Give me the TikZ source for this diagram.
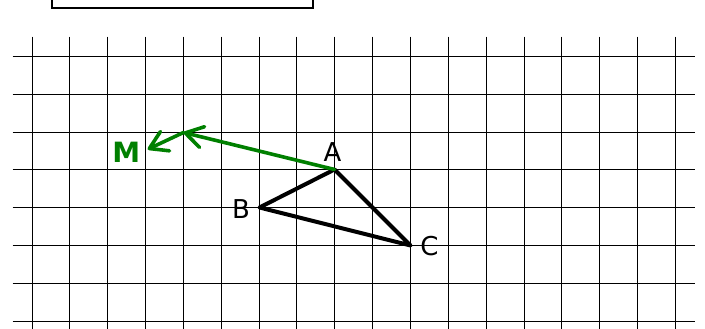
\documentclass[tikz,border=0pt]{standalone}
\usepackage{fontspec}
\setmainfont{DejaVu Sans}
\usetikzlibrary{arrows.meta,calc}
\definecolor{mgreen}{RGB}{0,128,0}
\tikzset{
  gridline/.style={line width=1pt, draw=black},
  tri/.style={line width=3pt, line join=round, line cap=round},
  vec/.style={line width=2.7pt, draw=mgreen, line cap=round,
    -{Straight Barb[length=13pt,width=16pt,line cap=round,line join=round]}},
  ptlabel/.style={anchor=base, inner sep=0pt, font=\fontsize{19.5}{22}\selectfont},
  mlabel/.style={anchor=base, inner sep=0pt, text=mgreen, font=\fontsize{21}{24}\selectfont\bfseries},
}
\begin{document}
\begin{tikzpicture}[x=0.026420cm, y=-0.026420cm]
\clip (0,0) rectangle (705,329);
\fill[white] (0,0) rectangle (705,329);
% frame at top
\draw[line width=1.3pt] (52,-10) rectangle (313,8);
% grid
\foreach \k in {0,...,17} {
  \draw[gridline] ({floor(32+37.85*\k)+0.5},36.7) -- ({floor(32+37.85*\k)+0.5},335);
}
\foreach \j in {0,...,7} {
  \draw[gridline] (12.7,{floor(56.3+37.85*\j)+0.5}) -- (695,{floor(56.3+37.85*\j)+0.5});
}
% points
\coordinate (A) at ({floor(32+8*37.85)+0.5},{floor(56.3+3*37.85)+0.5});
\coordinate (B) at ({floor(32+6*37.85)+0.5},{floor(56.3+4*37.85)+0.5});
\coordinate (C) at ({floor(32+10*37.85)+0.5},{floor(56.3+5*37.85)+0.5});
\coordinate (P) at ({floor(32+4*37.85)+0.5},{floor(56.3+2*37.85)+0.5});
\coordinate (Mtip) at (147.7,149.3);
% triangle
\draw[tri] (A) -- (B) -- (C) -- cycle;
% vectors
\draw[vec] (A) -- (P);
\draw[vec] (P) -- (Mtip);
% labels
\node[ptlabel] (la) at ($(A)+(-2,-8)$) {A};
\node[ptlabel] (lb) at ($(B)+(-18.6,11.3)$) {B};
\node[ptlabel] (lc) at ($(C)+(19,10.5)$) {C};
\node[mlabel] (lm) at ($(Mtip)+(-21.3,13.4)$) {M};
\end{tikzpicture}
\end{document}
